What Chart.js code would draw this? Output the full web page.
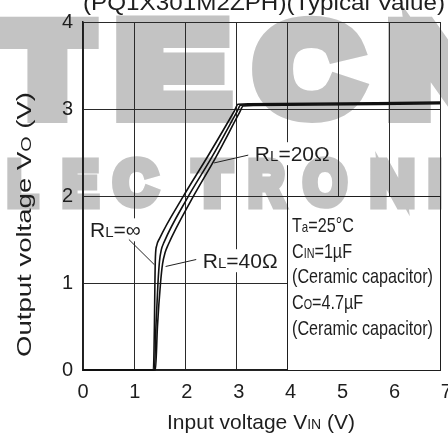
<!DOCTYPE html>
<html>
<head>
<meta charset="utf-8">
<script src="https://cdn.jsdelivr.net/npm/chart.js@4.4.1/dist/chart.umd.min.js"></script>
<style>
  html, body { margin: 0; padding: 0; background: #fff; }
  #wrap { width: 448px; height: 437px; }
</style>
</head>
<body>
<div id="wrap"><canvas id="chart" width="448" height="437"></canvas></div>
<script>
// Output voltage vs input voltage, three loads
const vinInf = [0, 1.38, 1.40, 1.41, 1.42, 1.445, 1.50, 1.96, 2.45, 2.97, 3.04, 3.25, 7];
const voutInf = [0, 0, 0.5, 1.0, 1.3, 1.43, 1.51, 1.99, 2.46, 2.98, 3.055, 3.06, 3.08];
const vin40 = [0, 1.40, 1.43, 1.47, 1.50, 1.535, 1.59, 2.04, 2.52, 3.02, 3.09, 3.3, 7];
const vout40 = [0, 0, 0.5, 1.0, 1.25, 1.38, 1.47, 1.97, 2.44, 2.97, 3.045, 3.05, 3.07];
const vin20 = [0, 1.42, 1.46, 1.52, 1.56, 1.61, 1.67, 2.12, 2.59, 3.07, 3.14, 3.35, 7];
const vout20 = [0, 0, 0.5, 1.0, 1.22, 1.35, 1.44, 1.95, 2.43, 2.96, 3.035, 3.04, 3.06];

// leader lines from the labels to their curves
const leadInfX = [0.90, 1.40], leadInfY = [1.50, 1.21];
const lead40X = [1.62, 2.22], lead40Y = [1.19, 1.27];
const lead20X = [2.57, 3.24], lead20Y = [2.38, 2.47];

const xTickLabels = ['0', '1', '2', '3', '4', '5', '6', '7'];
const yTickLabels = ['0', '1', '2', '3', '4'];

const conditions = [
    [['T', 21], ['a', 15], ['=25°C', 21]],
    [['C', 21], ['IN', 14], ['=1µF', 21]],
    [['(Ceramic capacitor)', 21]],
    [['C', 21], ['O', 14], ['=4.7µF', 21]],
    [['(Ceramic capacitor)', 21]]
];

const FONT = "'Liberation Sans', Arial, Helvetica, sans-serif";
const INK = '#1e1e1e';

function pts(xs, ys) {
    return xs.map((x, i) => ({ x: x, y: ys[i] }));
}

function measure(ctx, parts) {
    let w = 0;
    for (const [t, s] of parts) {
        ctx.font = s + 'px ' + FONT;
        w += ctx.measureText(t).width;
    }
    return w;
}

// draws text runs of different sizes on one baseline
function rich(ctx, parts, x, y, opt) {
    opt = opt || {};
    const w = measure(ctx, parts);
    const sx = opt.width ? opt.width / w : (opt.sx || 1);
    const total = w * sx;
    const x0 = opt.align === 'center' ? x - total / 2 : (opt.align === 'right' ? x - total : x);
    ctx.save();
    ctx.translate(x0, y);
    ctx.scale(sx, 1);
    ctx.fillStyle = INK;
    ctx.textAlign = 'left';
    ctx.textBaseline = 'alphabetic';
    let cx = 0;
    for (const [t, s] of parts) {
        ctx.font = s + 'px ' + FONT;
        ctx.fillText(t, cx, 0);
        cx += ctx.measureText(t).width;
    }
    ctx.restore();
    return { x: x0, w: total };
}

// heavy grey letter squeezed into a box (the watermark)
function blockLetter(ctx, ch, x0, x1, y0, y1) {
    ctx.save();
    ctx.font = "bold 100px " + FONT;
    ctx.textAlign = 'left';
    ctx.textBaseline = 'alphabetic';
    ctx.lineWidth = 14;
    ctx.lineJoin = 'miter';
    const m = ctx.measureText(ch);
    const l = m.actualBoundingBoxLeft + 7, r = m.actualBoundingBoxRight + 7;
    const a = m.actualBoundingBoxAscent + 7, d = m.actualBoundingBoxDescent + 7;
    ctx.translate(x0, y0);
    ctx.scale((x1 - x0) / (l + r), (y1 - y0) / (a + d));
    ctx.fillText(ch, l, a);
    ctx.strokeText(ch, l, a);
    ctx.restore();
}

const curveStyle = {
    borderColor: '#111',
    borderWidth: 1.6,
    pointRadius: 0,
    cubicInterpolationMode: 'monotone',
    clip: false
};
const leadStyle = { borderColor: '#222', borderWidth: 1, pointRadius: 0, tension: 0 };

const loadLabels = [
    { parts: [['R', 21], ['L', 15], ['=∞', 21]], vx: 0.137, vy: 1.525 },
    { parts: [['R', 21], ['L', 15], ['=40Ω', 21]], vx: 2.35, vy: 1.17 },
    { parts: [['R', 21], ['L', 15], ['=20Ω', 21]], vx: 3.37, vy: 2.40 }
];

const annotations = {
    id: 'annotations',
    beforeDatasetsDraw(chart) {
        const { ctx, scales: { x, y } } = chart;
        ctx.save();
        // conditions box hides the grid in its corner
        const bx = x.getPixelForValue(4), by = y.getPixelForValue(2);
        const bw = x.getPixelForValue(7) - bx, bh = y.getPixelForValue(0) - by;
        ctx.fillStyle = '#fff';
        ctx.fillRect(bx, by, bw, bh);
        ctx.strokeStyle = INK;
        ctx.lineWidth = 1;
        ctx.strokeRect(Math.round(bx) + 0.5, Math.round(by) + 0.5, bw, bh);
        for (const lb of loadLabels) {
            const px = x.getPixelForValue(lb.vx), py = y.getPixelForValue(lb.vy);
            const w = measure(ctx, lb.parts);
            ctx.fillStyle = '#fff';
            ctx.fillRect(px - 3, py - 19, w + 6, 23);
        }
        ctx.restore();
    },
    afterDatasetsDraw(chart) {
        const { ctx, scales: { x, y } } = chart;
        for (const lb of loadLabels) {
            rich(ctx, lb.parts, x.getPixelForValue(lb.vx), y.getPixelForValue(lb.vy));
        }
        const left = x.getPixelForValue(4) + 5, top = y.getPixelForValue(2);
        const sx = 141 / measure(ctx, conditions[2]);
        const offsets = [36, 61.7, 87.4, 113, 138.8];
        conditions.forEach((line, i) => rich(ctx, line, left, top + offsets[i], { sx: sx }));
    },
    afterDraw(chart) {
        const { ctx, scales: { x } } = chart;
        ctx.save();
        // x tick labels run slightly wider than the grid
        ctx.font = '20px ' + FONT;
        ctx.fillStyle = INK;
        ctx.textAlign = 'center';
        ctx.textBaseline = 'alphabetic';
        xTickLabels.forEach((t, i) => {
            const px = x.left + (x.getPixelForValue(i) - x.left) * 1.018;
            ctx.fillText(t, px, 398);
        });
        ctx.restore();

        rich(ctx, [['Input voltage V', 21], ['IN', 14], [' (V)', 21]], 261, 429, { align: 'center', width: 188 });

        ctx.save();
        ctx.translate(31, 224.5);
        ctx.rotate(-Math.PI / 2);
        rich(ctx, [['Output voltage V', 21], ['O', 15], [' (V)', 21]], 0, 0, { align: 'center', width: 265 });
        ctx.restore();

        rich(ctx, [['(PQ1X301M2ZPH)(Typical Value)', 22]], 83, 10, { width: 362 });

        ctx.save();
        ctx.globalCompositeOperation = 'darken';
        ctx.fillStyle = '#c3c3c3';
        ctx.strokeStyle = '#c3c3c3';
        [['T', -4, 100], ['E', 115, 233], ['C', 252, 367], ['N', 387, 505]]
            .forEach(([c, a, b]) => blockLetter(ctx, c, a, b, 15, 123));
        [['L', 7, 40], ['E', 62, 100], ['C', 112, 160], ['T', 190, 235], ['R', 248, 287],
         ['O', 302, 348], ['N', 370, 415], ['I', 428, 442]]
            .forEach(([c, a, b]) => blockLetter(ctx, c, a, b, 156, 209));
        ctx.restore();
    }
};

new Chart(document.getElementById('chart'), {
    type: 'line',
    data: {
        datasets: [
            Object.assign({ label: 'RL=∞', data: pts(vinInf, voutInf) }, curveStyle),
            Object.assign({ label: 'RL=40Ω', data: pts(vin40, vout40) }, curveStyle),
            Object.assign({ label: 'RL=20Ω', data: pts(vin20, vout20) }, curveStyle),
            Object.assign({ data: pts(leadInfX, leadInfY) }, leadStyle),
            Object.assign({ data: pts(lead40X, lead40Y) }, leadStyle),
            Object.assign({ data: pts(lead20X, lead20Y) }, leadStyle)
        ]
    },
    options: {
        responsive: false,
        animation: false,
        devicePixelRatio: 1,
        layout: { padding: { left: 0, right: 8, top: 15, bottom: 0 } },
        plugins: { legend: { display: false }, tooltip: { enabled: false } },
        scales: {
            x: {
                type: 'linear', min: 0, max: 7,
                ticks: { display: false, stepSize: 1 },
                grid: { color: '#2a2a2a', lineWidth: 1, drawTicks: false },
                border: { color: INK, width: 1.5 },
                afterFit(s) { s.height = 67; }
            },
            y: {
                type: 'linear', min: 0, max: 4,
                ticks: {
                    stepSize: 1, padding: 10, color: INK,
                    font: { family: FONT, size: 20 },
                    callback: (v) => yTickLabels[v]
                },
                grid: { color: '#2a2a2a', lineWidth: 1, drawTicks: false },
                border: { color: INK, width: 1.5 },
                afterFit(s) { s.width = 83; }
            }
        }
    },
    plugins: [annotations]
});
</script>
</body>
</html>
